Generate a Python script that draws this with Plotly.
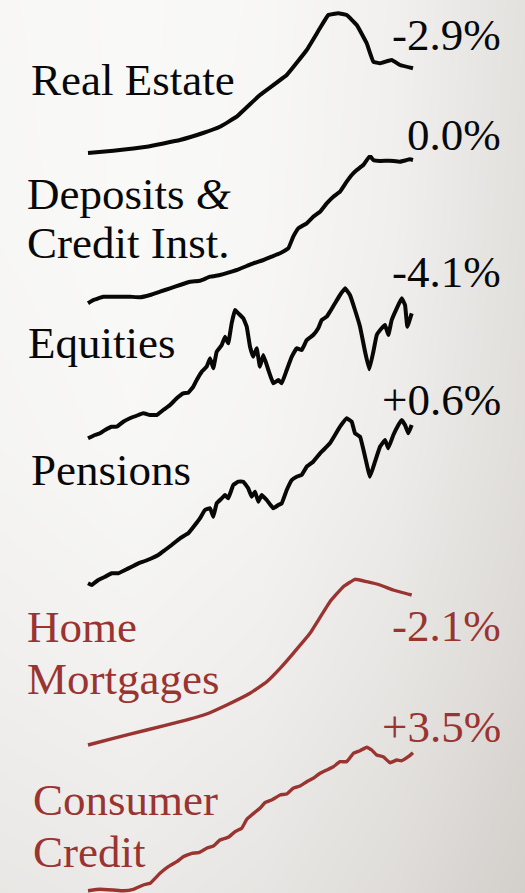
import plotly.graph_objects as go

# ---------------- data (arbitrary index units) ----------------
re_years = [1991.75, 1993.31, 1995.36, 1997.41, 1998.83, 1999.87, 2000.90, 2002.33, 2003.98,
            2005.21, 2006.03, 2006.54, 2007.15, 2007.67, 2008.29, 2008.90, 2009.31, 2009.72,
            2010.44, 2010.95, 2011.75]
real_estate = [2, 4.3, 8.3, 15, 22, 28.3, 38.3, 60, 80, 105, 127, 140, 141.7, 140, 130, 111.7,
               93.3, 91.7, 95, 90, 86.7]

dep_years = [1991.75, 1992.08, 1992.69, 1993.31, 1993.92, 1994.33, 1994.95, 1995.57, 1996.18,
             1996.80, 1997.41, 1998.03, 1998.64, 1999.26, 1999.87, 2000.38, 2000.90, 2001.52,
             2001.92, 2002.54, 2003.05, 2003.57, 2004.08, 2004.38, 2004.69, 2005.21, 2005.61,
             2006.03, 2006.44, 2006.85, 2007.26, 2007.67, 2007.98, 2008.29, 2008.69, 2009.10,
             2009.31, 2009.72, 2010.33, 2010.95, 2011.57, 2011.75]
deposits = [1.7, 5, 8.3, 8.3, 8.3, 8.3, 7.7, 10, 13.3, 16.7, 20, 23.3, 24.3, 28.3, 30, 32.3, 35,
            39, 41.7, 45, 48.3, 51.7, 56.7, 68.3, 76.7, 81.7, 88.3, 93.3, 101.7, 108.3, 113.3,
            123.3, 130, 135, 140, 149, 145, 144, 144.3, 143.3, 145.7, 145]

eq_years = [1991.75, 1992.18, 1992.49, 1992.80, 1993.21, 1993.52, 1993.92, 1994.33, 1994.85,
            1995.15, 1995.57, 1995.98, 1996.38, 1996.80, 1997.21, 1997.61, 1997.92, 1998.23,
            1998.44, 1998.75, 1999.05, 1999.26, 1999.46, 1999.67, 1999.98, 2000.18, 2000.38,
            2000.59, 2000.80, 2001.00, 2001.31, 2001.52, 2001.72, 2001.92, 2002.13, 2002.33,
            2002.54, 2002.85, 2003.15, 2003.46, 2003.67, 2003.98, 2004.29, 2004.59, 2004.90,
            2005.21, 2005.61, 2005.92, 2006.13, 2006.44, 2006.64, 2006.95, 2007.26, 2007.57,
            2007.87, 2008.18, 2008.49, 2008.80, 2009.06, 2009.31, 2009.52, 2009.82, 2010.03,
            2010.23, 2010.44, 2010.75, 2011.05, 2011.26, 2011.40, 2011.67]
equities = [1.7, 5, 6.7, 10, 13.3, 13.3, 18.3, 21.7, 25, 26.7, 25, 25, 30, 35, 41.7, 46.7, 47.3,
            53.3, 60, 68.3, 73.3, 81.7, 71.7, 88.3, 95, 103.3, 96.7, 116.7, 130, 126.7, 121.7,
            113.3, 93.3, 83.3, 91.7, 73.3, 85, 70, 56.7, 60, 56.7, 70, 83.3, 91.7, 90, 100, 105,
            111.7, 120, 123.3, 128.3, 136.7, 145, 151.7, 145, 130, 113.3, 88.3, 70.7, 88.3, 105,
            111.7, 115, 105, 120, 131.7, 141.7, 135, 113.3, 126.7]

pen_years = [1991.75, 1991.98, 1992.38, 1992.80, 1993.21, 1993.61, 1994.03, 1994.44, 1994.85,
             1995.26, 1995.67, 1996.08, 1996.49, 1996.90, 1997.41, 1997.92, 1998.33, 1998.64,
             1998.95, 1999.26, 1999.46, 1999.67, 1999.98, 2000.18, 2000.38, 2000.69, 2001.00,
             2001.31, 2001.61, 2001.82, 2002.03, 2002.23, 2002.44, 2002.75, 2003.15, 2003.46,
             2003.67, 2003.98, 2004.29, 2004.59, 2004.90, 2005.21, 2005.61, 2006.03, 2006.44,
             2006.64, 2006.95, 2007.26, 2007.67, 2007.98, 2008.18, 2008.49, 2008.80, 2009.10,
             2009.41, 2009.72, 2010.03, 2010.23, 2010.54, 2010.85, 2011.05, 2011.26, 2011.46,
             2011.67]
pensions = [6.7, 5, 10, 13.3, 16.7, 16.7, 20, 23.3, 26.7, 29, 31.7, 35, 40, 45, 51.7, 56.7, 65,
            71.7, 80, 81.7, 73.3, 86.7, 91.7, 95, 91.7, 105, 108.3, 108.3, 101.7, 93.3, 98.3,
            88.3, 95, 90, 81.7, 85, 86.7, 100, 110, 113.3, 115, 123.3, 128.3, 136.7, 143.3,
            146.7, 155, 163.3, 171.7, 168.3, 156.7, 153.3, 133.3, 113.3, 128.3, 143.3, 150,
            141.7, 155, 165, 170, 165, 156.7, 165]

mort_years = [1991.75, 1993.31, 1995.36, 1997.41, 1999.05, 2000.29, 2001.72, 2002.75, 2003.57,
              2004.38, 2005.41, 2006.64, 2007.46, 2008.18, 2008.90, 2009.72, 2010.54, 2011.67]
mortgages = [5, 11.7, 20, 28.3, 36, 45, 56.7, 68.3, 81.7, 96.7, 116.7, 148.3, 163.3, 170.7,
             168.3, 165, 160, 155]

cc_years = [1991.75, 1992.49, 1993.31, 1993.92, 1994.54, 1995.15, 1995.57, 1996.18, 1996.69,
            1997.21, 1997.61, 1998.13, 1998.54, 1999.05, 1999.46, 1999.87, 2000.38, 2000.80,
            2001.21, 2001.52, 2001.82, 2002.33, 2002.64, 2003.05, 2003.57, 2003.98, 2004.38,
            2004.80, 2005.21, 2005.61, 2006.03, 2006.44, 2006.85, 2007.26, 2007.67, 2008.08,
            2008.49, 2008.90, 2009.21, 2009.52, 2009.92, 2010.33, 2010.75, 2011.05, 2011.46,
            2011.75]
consumer_credit = [2.3, 3.7, 3, 2.3, 3.7, 8, 9.7, 19.7, 26.3, 31.3, 36.3, 39.7, 40.3, 44.7, 47,
                   53, 55.7, 61.3, 64.7, 73.7, 78, 84.7, 90.3, 93, 98, 99, 104.7, 107, 111.3,
                   114.7, 119.7, 123, 126.3, 131.3, 131.3, 139.7, 142.3, 145.7, 143, 138, 136.3,
                   130.3, 133, 132.3, 136.3, 140.3]

labels = ["Real Estate", "Deposits <i>&amp;</i><br>Credit Inst.", "Equities", "Pensions",
          "Home<br>Mortgages", "Consumer<br>Credit"]
changes = ["-2.9%", "0.0%", "-4.1%", "+0.6%", "-2.1%", "+3.5%"]

# ---------------- layout / style ----------------
W, H = 525, 893
BLACK = "#080808"
RED = "#9a3431"
FONT = "Liberation Serif"

xs = [re_years, dep_years, eq_years, pen_years, mort_years, cc_years]
ys = [real_estate, deposits, equities, pensions, mortgages, consumer_credit]
colors = [BLACK, BLACK, BLACK, BLACK, RED, RED]
widths = [4, 4, 4, 4, 3.4, 3.4]
panels = [(155, 150), (305, 150), (440, 155), (590, 180), (750, 175), (893, 150)]
label_pos = [[(29, 80)], [(25, 194), (25, 243)], [(26, 343)], [(29, 470)],
             [(25, 627), (25, 679)], [(31, 800), (31, 852)]]
pct_y = [35, 135, 272, 400, 626, 727]

fig = go.Figure()

# background gradient (own axes, drawn first)
bg_z = [
    [0.66, 0.70, 0.62, 0.45, 0.22],
    [0.80, 0.85, 0.78, 0.62, 0.38],
    [0.90, 0.95, 0.90, 0.75, 0.48],
    [0.94, 0.98, 0.94, 0.80, 0.52],
    [0.95, 0.98, 0.95, 0.82, 0.55],
]
fig.add_trace(go.Heatmap(z=bg_z, x=[0, 0.25, 0.5, 0.75, 1], y=[0, 0.25, 0.5, 0.75, 1],
                         zsmooth="best", showscale=False, hoverinfo="skip",
                         zmin=0, zmax=1,
                         colorscale=[[0, "rgb(200,195,190)"], [1, "rgb(250,250,249)"]],
                         xaxis="x", yaxis="y"))

pad = 8
x0 = 1991.75 - pad / 16.25
x1 = 2011.75 + pad / 16.25
layout_axes = {}
layout_axes["xaxis"] = dict(domain=[0, 1], range=[0, 1], visible=False, fixedrange=True)
layout_axes["yaxis"] = dict(domain=[0, 1], range=[0, 1], visible=False, fixedrange=True)
layout_axes["xaxis2"] = dict(domain=[(88 - pad) / W, (413 + pad) / W], range=[x0, x1],
                             visible=False, anchor="y2")

for i, (x, y) in enumerate(zip(xs, ys)):
    bottom, ht = panels[i]
    p = pad if bottom < H else 0
    d0 = max(0, (H - bottom - p) / H)
    d1 = min(1, (H - bottom + ht) / H)
    layout_axes[f"yaxis{i + 2}"] = dict(domain=[d0, d1], range=[-p, ht], visible=False,
                                        anchor="x2")
    fig.add_trace(go.Scatter(x=x, y=y, mode="lines", xaxis="x2", yaxis=f"y{i + 2}",
                             line=dict(color=colors[i], width=widths[i], shape="spline",
                                       smoothing=0.25),
                             hoverinfo="skip", showlegend=False))

annotations = []
for i in range(6):
    lines = labels[i].split("<br>")
    for ln, (lx, ly) in zip(lines, label_pos[i]):
        annotations.append(dict(text=ln, x=lx / W, y=1 - ly / H, xref="paper", yref="paper",
                                xanchor="left", yanchor="middle", showarrow=False,
                                font=dict(family=FONT, size=45, color=colors[i])))
    annotations.append(dict(text=changes[i], x=503 / W, y=1 - pct_y[i] / H, xref="paper",
                            yref="paper", xanchor="right", yanchor="middle", showarrow=False,
                            font=dict(family=FONT, size=45, color=colors[i])))

fig.update_layout(width=W, height=H, margin=dict(l=0, r=0, t=0, b=0),
                  paper_bgcolor="#f7f7f6", plot_bgcolor="rgba(0,0,0,0)",
                  showlegend=False, annotations=annotations, **layout_axes)

fig.write_html("out.html", config={"displayModeBar": False},
               post_script="document.body.style.margin='0';"
                           "document.body.style.overflow='hidden';")
